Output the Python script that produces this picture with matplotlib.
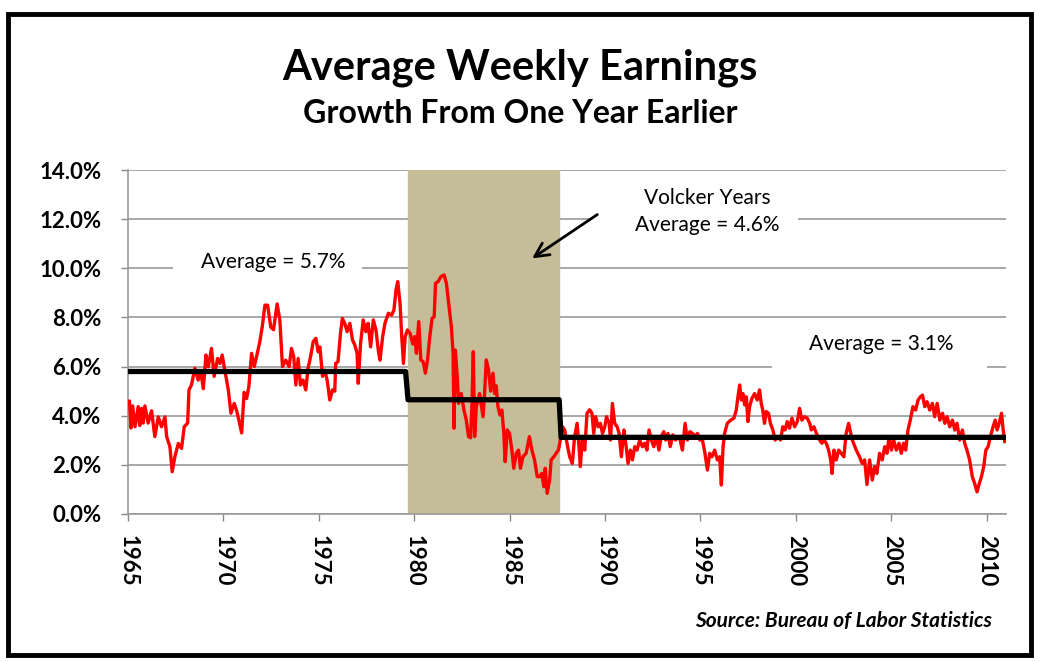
import matplotlib.pyplot as plt
from matplotlib.patches import Rectangle

# monthly-ish trace of weekly earnings growth (% y/y)
years = [1965.0, 1965.08, 1965.16, 1965.25, 1965.37, 1965.54, 1965.62, 1965.72, 1965.8, 1965.89,
         1966.06, 1966.24, 1966.41, 1966.59, 1966.76, 1966.94, 1967.03, 1967.2, 1967.32, 1967.46,
         1967.64, 1967.81, 1967.95, 1968.13, 1968.2, 1968.33, 1968.51, 1968.68, 1968.82, 1968.95,
         1969.09, 1969.21, 1969.38, 1969.52, 1969.7, 1969.82, 1969.94, 1970.08, 1970.26, 1970.4,
         1970.57, 1970.7, 1970.82, 1970.96, 1971.09, 1971.22, 1971.34, 1971.48, 1971.62, 1971.74,
         1971.91, 1972.04, 1972.18, 1972.32, 1972.49, 1972.63, 1972.82, 1972.96, 1973.1, 1973.27,
         1973.45, 1973.57, 1973.69, 1973.8, 1973.92, 1974.04, 1974.18, 1974.32, 1974.44, 1974.57,
         1974.71, 1974.85, 1974.97, 1975.06, 1975.2, 1975.32, 1975.44, 1975.58, 1975.72, 1975.84,
         1975.89, 1976.01, 1976.14, 1976.24, 1976.36, 1976.49, 1976.63, 1976.77, 1976.89, 1977.01,
         1977.07, 1977.19, 1977.33, 1977.47, 1977.59, 1977.72, 1977.86, 1978.0, 1978.12, 1978.21,
         1978.35, 1978.47, 1978.65, 1978.82, 1978.94, 1979.05, 1979.14, 1979.26, 1979.35, 1979.44,
         1979.53, 1979.65, 1979.79, 1979.93, 1980.03, 1980.12, 1980.24, 1980.35, 1980.47, 1980.59,
         1980.7, 1980.82, 1980.94, 1981.05, 1981.12, 1981.26, 1981.4, 1981.57, 1981.69, 1981.81,
         1981.95, 1982.04, 1982.09, 1982.16, 1982.26, 1982.33, 1982.47, 1982.61, 1982.73, 1982.85,
         1982.96, 1983.03, 1983.1, 1983.17, 1983.26, 1983.43, 1983.61, 1983.69, 1983.78, 1983.9,
         1984.01, 1984.13, 1984.22, 1984.3, 1984.39, 1984.5, 1984.6, 1984.7, 1984.77, 1984.88,
         1985.0, 1985.12, 1985.22, 1985.35, 1985.47, 1985.57, 1985.7, 1985.87, 1986.04, 1986.17,
         1986.31, 1986.45, 1986.57, 1986.69, 1986.8, 1986.87, 1986.97, 1987.1, 1987.18, 1987.32,
         1987.44, 1987.56, 1987.63, 1987.77, 1987.89, 1988.01, 1988.15, 1988.29, 1988.41, 1988.54,
         1988.64, 1988.71, 1988.82, 1988.94, 1989.06, 1989.2, 1989.32, 1989.41, 1989.51, 1989.64,
         1989.76, 1989.87, 1989.99, 1990.08, 1990.22, 1990.29, 1990.39, 1990.51, 1990.64, 1990.74,
         1990.86, 1990.99, 1991.09, 1991.21, 1991.33, 1991.44, 1991.56, 1991.68, 1991.82, 1991.96,
         1992.08, 1992.2, 1992.31, 1992.43, 1992.56, 1992.69, 1992.83, 1992.95, 1993.08, 1993.18,
         1993.3, 1993.42, 1993.56, 1993.7, 1993.82, 1993.94, 1994.06, 1994.2, 1994.32, 1994.45,
         1994.59, 1994.73, 1994.85, 1994.97, 1995.11, 1995.24, 1995.37, 1995.49, 1995.61, 1995.75,
         1995.89, 1996.01, 1996.1, 1996.19, 1996.27, 1996.41, 1996.59, 1996.76, 1996.88, 1996.97,
         1997.06, 1997.15, 1997.23, 1997.32, 1997.41, 1997.49, 1997.58, 1997.7, 1997.84, 1997.98,
         1998.1, 1998.19, 1998.27, 1998.36, 1998.45, 1998.57, 1998.67, 1998.8, 1998.92, 1999.06,
         1999.2, 1999.32, 1999.44, 1999.55, 1999.67, 1999.8, 1999.94, 2000.08, 2000.2, 2000.32,
         2000.46, 2000.6, 2000.73, 2000.81, 2000.95, 2001.08, 2001.25, 2001.37, 2001.48, 2001.6,
         2001.72, 2001.83, 2001.9, 2002.0, 2002.12, 2002.25, 2002.38, 2002.52, 2002.64, 2002.77,
         2002.96, 2003.17, 2003.34, 2003.48, 2003.61, 2003.73, 2003.87, 2004.01, 2004.13, 2004.25,
         2004.39, 2004.53, 2004.66, 2004.78, 2004.89, 2005.01, 2005.13, 2005.27, 2005.41, 2005.53,
         2005.65, 2005.76, 2005.88, 2006.0, 2006.14, 2006.28, 2006.41, 2006.53, 2006.64, 2006.76,
         2006.88, 2007.02, 2007.16, 2007.28, 2007.41, 2007.55, 2007.69, 2007.81, 2007.93, 2008.07,
         2008.21, 2008.33, 2008.45, 2008.59, 2008.73, 2008.85, 2008.97, 2009.11, 2009.25, 2009.37,
         2009.5, 2009.6, 2009.73, 2009.85, 2009.96, 2010.08, 2010.2, 2010.34, 2010.45, 2010.55,
         2010.66, 2010.78, 2010.87, 2010.95]
growth = [4.5, 4.6, 3.5, 4.4, 3.55, 4.37, 3.6, 4.3, 3.7, 4.4,
          3.7, 4.2, 3.15, 3.95, 3.55, 3.95, 3.15, 2.74, 1.72, 2.33,
          2.87, 2.67, 3.55, 3.7, 5.05, 5.25, 5.93, 5.45, 5.8, 5.1,
          6.47, 5.99, 6.74, 5.6, 6.33, 6.13, 6.47, 5.85, 5.05, 4.1,
          4.5, 4.2, 3.8, 3.3, 4.95, 4.7, 5.2, 6.54, 6.0, 6.4,
          7.0, 7.62, 8.5, 8.5, 7.6, 7.5, 8.55, 7.9, 6.0, 6.26,
          6.0, 6.74, 6.4, 5.25, 6.33, 5.25, 5.45, 5.05, 5.93, 6.4,
          7.01, 7.15, 6.6, 6.8, 5.6, 5.85, 5.45, 4.64, 5.05, 5.0,
          6.13, 6.2, 7.35, 7.96, 7.76, 7.42, 7.76, 7.08, 6.88, 6.54,
          5.32, 6.92, 7.9, 7.42, 7.76, 6.8, 7.9, 7.49, 6.67, 6.26,
          7.22, 7.76, 8.17, 8.1, 8.3, 9.12, 9.46, 8.58, 7.22, 6.13,
          7.22, 7.49, 7.35, 6.92, 7.22, 6.54, 7.83, 6.27, 6.2, 5.73,
          6.27, 7.22, 7.96, 8.03, 9.39, 9.46, 9.66, 9.73, 9.39, 8.58,
          7.62, 6.54, 3.49, 6.67, 5.59, 4.5, 4.9, 4.23, 3.83, 3.15,
          3.1, 4.5, 6.61, 3.15, 4.37, 4.9, 3.96, 4.9, 6.27, 5.86,
          5.0, 5.73, 4.9, 5.22, 4.37, 4.03, 4.23, 3.28, 2.13, 3.42,
          3.28, 2.6, 1.86, 2.47, 2.6, 1.86, 2.33, 2.47, 3.15, 2.6,
          2.2, 1.52, 1.52, 1.65, 1.11, 1.86, 0.84, 1.38, 2.2, 2.33,
          2.47, 2.6, 2.88, 3.55, 3.42, 2.88, 2.33, 2.06, 3.15, 3.69,
          2.74, 1.93, 3.15, 2.6, 4.1, 4.24, 4.1, 3.28, 3.96, 3.55,
          3.69, 3.28, 3.55, 3.96, 3.69, 3.01, 4.5, 3.69, 3.55, 3.28,
          2.33, 3.42, 2.88, 2.06, 2.6, 2.2, 2.74, 2.6, 3.01, 2.74,
          2.88, 2.6, 3.42, 3.01, 2.74, 3.15, 2.6, 3.15, 3.35, 3.01,
          3.28, 2.74, 3.22, 3.01, 3.15, 3.01, 2.6, 3.69, 3.01, 3.35,
          3.28, 3.15, 3.28, 3.01, 3.01, 2.47, 1.79, 2.47, 2.33, 2.6,
          2.2, 2.33, 1.18, 2.74, 3.28, 3.69, 3.82, 3.9, 4.23, 4.77,
          5.25, 4.64, 4.9, 4.44, 4.77, 3.76, 4.37, 4.7, 4.9, 4.64,
          5.05, 4.5, 4.23, 3.69, 4.17, 4.1, 3.69, 3.42, 3.01, 3.15,
          3.01, 3.55, 3.42, 3.76, 3.49, 3.9, 3.55, 3.76, 4.3, 3.82,
          3.96, 3.9, 3.69, 3.42, 3.55, 3.28, 3.01, 2.88, 3.01, 2.88,
          2.6, 2.2, 1.65, 2.6, 2.2, 2.6, 2.47, 2.33, 3.28, 3.69,
          3.01, 2.6, 2.33, 2.06, 2.2, 1.2, 2.2, 1.38, 1.93, 1.65,
          2.47, 2.2, 2.74, 2.47, 3.15, 2.6, 3.01, 2.6, 2.88, 2.47,
          2.88, 2.6, 3.42, 3.82, 4.37, 4.23, 4.64, 4.77, 4.84, 4.37,
          4.57, 4.23, 4.5, 3.96, 4.5, 3.82, 4.1, 3.69, 3.96, 3.55,
          3.82, 3.42, 3.69, 3.01, 3.42, 2.88, 2.6, 2.2, 1.52, 1.25,
          0.9, 1.2, 1.52, 1.93, 2.6, 2.74, 3.15, 3.55, 3.82, 3.42,
          3.69, 4.1, 3.42, 2.95]

# period averages (step line)
avg_x = [1965.0, 1979.55, 1979.68, 1987.6, 1987.7, 2011.0]
avg_y = [5.8, 5.8, 4.65, 4.65, 3.12, 3.12]

volcker_start = 1979.68
volcker_end = 1987.6

xticks = [1965, 1970, 1975, 1980, 1985, 1990, 1995, 2000, 2005, 2010]
yticks = [0, 2, 4, 6, 8, 10, 12, 14]

FONT = 'Lato'

fig = plt.figure(figsize=(10.4, 6.61), dpi=100)
ax = fig.add_axes([0.123, 0.2224, 0.844, 0.5204])

ax.axvspan(volcker_start, volcker_end, color='#c4bd97', zorder=1)
ax.plot(years, growth, color='#ff0000', lw=2.4, zorder=3)
ax.plot(avg_x, avg_y, color='black', lw=3.8, zorder=4)

ax.set_xlim(1965, 2011)
ax.set_ylim(0, 14)
ax.set_yticks(yticks)
ax.set_yticklabels(['%.1f%%' % v for v in yticks], fontfamily=FONT, fontweight='bold', fontsize=16)
ax.set_xticks(xticks)
ax.set_xticklabels([str(v) for v in xticks], rotation=270, fontfamily=FONT, fontweight='bold', fontsize=16)
ax.yaxis.grid(True, color='#999999', lw=1.2, zorder=0)
ax.set_axisbelow(True)
ax.tick_params(axis='both', colors='#888888', labelcolor='black', length=5, width=1)
ax.tick_params(axis='y', pad=14)
ax.tick_params(axis='x', pad=10)
for s in ['top', 'right']:
    ax.spines[s].set_visible(False)
for s in ['left', 'bottom']:
    ax.spines[s].set_color('#999999')
    ax.spines[s].set_linewidth(1.2)

# white label boxes hiding gridlines (like the excel text boxes)
ax.add_patch(Rectangle((1967.36, 9.6), 9.9, 1.2, facecolor='white', edgecolor='none', zorder=2))
ax.add_patch(Rectangle((1989.3, 11.4), 10.8, 2.2, facecolor='white', edgecolor='none', zorder=2))
ax.add_patch(Rectangle((1998.73, 5.8), 11.3, 1.9, facecolor='white', edgecolor='none', zorder=2))

ax.text(1972.6, 10.25, 'Average = 5.7%', ha='center', va='center', fontfamily=FONT, fontsize=15, zorder=5)
ax.text(1995.38, 12.85, 'Volcker Years', ha='center', va='center', fontfamily=FONT, fontsize=15, zorder=5)
ax.text(1995.38, 11.75, 'Average = 4.6%', ha='center', va='center', fontfamily=FONT, fontsize=15, zorder=5)
ax.text(2004.5, 6.9, 'Average = 3.1%', ha='center', va='center', fontfamily=FONT, fontsize=15, zorder=5)
ax.annotate('', xy=(1986.06, 10.34), xytext=(1989.72, 12.25),
            arrowprops=dict(arrowstyle='->', color='black', lw=2, mutation_scale=25), zorder=5)

fig.text(0.5, 0.898, 'Average Weekly Earnings', ha='center', va='center',
         fontfamily=FONT, fontweight='bold', fontsize=30)
fig.text(0.5, 0.828, 'Growth From One Year Earlier', ha='center', va='center',
         fontfamily=FONT, fontweight='bold', fontsize=23)
fig.text(0.954, 0.06, 'Source: Bureau of Labor Statistics', ha='right', va='center',
         fontfamily=FONT, fontweight='bold', fontstyle='italic', fontsize=15)

# outer frame
fig.patches.append(Rectangle((0.008, 0.009), 0.983, 0.97, transform=fig.transFigure,
                             fill=False, edgecolor='black', lw=3.5))

fig.savefig('out.png', dpi=100)
